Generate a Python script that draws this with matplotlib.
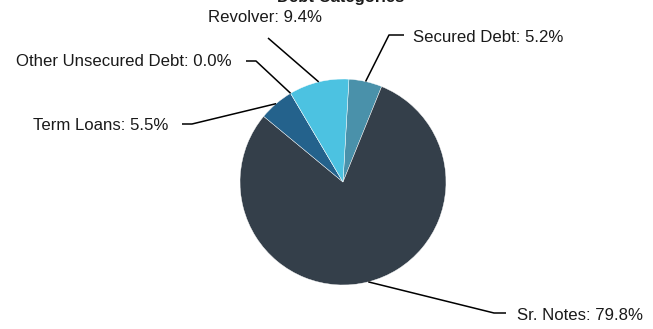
import numpy as np
import matplotlib
matplotlib.use('Agg')
import matplotlib.pyplot as plt

plt.rcParams['font.family'] = ['Liberation Sans', 'DejaVu Sans']

# data (clockwise from top)
categories = ['Secured Debt', 'Sr. Notes', 'Term Loans', 'Other Unsecured Debt', 'Revolver']
shares = [5.2, 79.8, 5.5, 0.0, 9.4]
colors = ['#4a91aa', '#343f4a', '#24628c', '#2b7fb0', '#4cc2e1']
title = 'Debt Categories'

W, H = 653, 329
cx, cy, r = 343, 147, 103

# label layout: elbow point, line end, text anchor, alignment (pixel units, y up)
layout = {
    'Secured Debt': ((389, 294), (404, 294), (413, 292), 'left'),
    'Sr. Notes': ((494, 16), (506, 16), (517, 13), 'left'),
    'Term Loans': ((192, 205), (182, 205), (168, 204), 'right'),
    'Other Unsecured Debt': ((256, 268), (246, 268), (232, 267), 'right'),
    'Revolver': ((268, 291), (268, 291), (265, 312), 'center'),
}

fig = plt.figure(figsize=(W / 100, H / 100), dpi=100)
ax = fig.add_axes([0, 0, 1, 1])

wedges, _ = ax.pie(shares, colors=colors, startangle=86.7, counterclock=False,
                   center=(cx, cy), radius=r,
                   wedgeprops=dict(edgecolor='white', linewidth=0.3))
ax.set_xlim(0, W)
ax.set_ylim(0, H)
ax.set_aspect('equal')
ax.axis('off')

for w, name, val in zip(wedges, categories, shares):
    mid = np.deg2rad((w.theta1 + w.theta2) / 2)
    ax0 = cx + r * np.cos(mid)
    ay0 = cy + r * np.sin(mid)
    elbow, end, txt, ha = layout[name]
    ax.plot([ax0, elbow[0], end[0]], [ay0, elbow[1], end[1]], color='black',
            lw=1.1, solid_capstyle='butt', zorder=3)
    ax.text(txt[0], txt[1], f'{name}: {val:.1f}%', ha=ha, va='center',
            fontsize=12.1, color='#1a1a1a')

# title sits mostly above the visible area, as in the source
ax.text(341, H - 2, title, ha='center', va='baseline', fontsize=12,
        fontweight='bold', color='#1a1a1a')

fig.savefig('out.png', dpi=100)
